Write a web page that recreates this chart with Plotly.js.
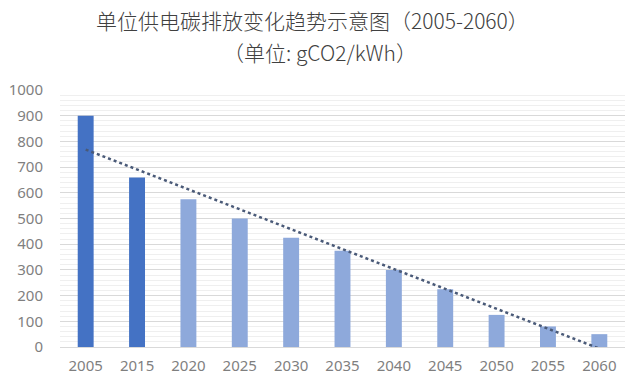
<!DOCTYPE html>
<html>
<head>
<meta charset="utf-8">
<script src="https://cdn.plot.ly/plotly-3.0.1.min.js"></script>
<style>html,body{margin:0;padding:0;background:#fff;}#chart{width:635px;height:379px;}</style>
</head>
<body>
<div id="chart"></div>
<script>
const years = ['2005','2015','2020','2025','2030','2035','2040','2045','2050','2055','2060'];
const emissions = [900, 660, 575, 500, 425, 375, 300, 225, 125, 80, 50];
const barColors = ['#4472C4','#4472C4','#8EA9DB','#8EA9DB','#8EA9DB','#8EA9DB','#8EA9DB','#8EA9DB','#8EA9DB','#8EA9DB','#8EA9DB'];
const trendYears = ['2005','2060'];
const trendValues = [768, -6];
const yTicks = [0,100,200,300,400,500,600,700,800,900,1000];

const data = [
  {type:'bar', x: years, y: emissions, marker:{color: barColors}, hoverinfo:'x+y'},
  {type:'scatter', mode:'lines', x: trendYears, y: trendValues,
   line:{color:'#4A5A78', width:2.5, dash:'dot'}, hoverinfo:'skip', cliponaxis:true}
];
const titleFont = {family:'"Noto Sans CJK SC", sans-serif', size:21, color:'#404040', weight:300};
const layout = {
  width:635, height:379,
  margin:{l:60, r:10, t:90, b:32},
  paper_bgcolor:'#fff', plot_bgcolor:'#fff',
  showlegend:false,
  bargap:0.69,
  font:{family:'"Noto Sans", "Liberation Sans", sans-serif', color:'#595959', size:14},
  title:{text:'单位供电碳排放变化趋势示意图（2005-2060）', x:0.492, xanchor:'center', y:0.942, yanchor:'middle',
    font: titleFont},
  annotations:[{text:'（单位: gCO2/kWh）', xref:'paper', yref:'paper', x:0.46, y:1.0, yshift:38, showarrow:false,
    xanchor:'center', yanchor:'middle', font: titleFont}],
  xaxis:{type:'category', categoryorder:'array', categoryarray: years, showgrid:false, showline:false,
    ticks:'', tickfont:{size:15, color:'#7F7F7F'}, ticklabelstandoff:8},
  yaxis:{range:[0,1000], tickvals:yTicks, ticktext: yTicks.map(String), showgrid:true, gridcolor:'#D9D9D9', gridwidth:1,
    zeroline:true, zerolinecolor:'#D9D9D9', zerolinewidth:1, showline:false, ticks:'',
    tickfont:{size:15, color:'#7F7F7F'}, ticklabelstandoff:16,
    minor:{dtick:20, showgrid:true, gridcolor:'#EFEFEF', gridwidth:1}}
};
Plotly.newPlot('chart', data, layout, {displayModeBar:false, staticPlot:true});
</script>
</body>
</html>
